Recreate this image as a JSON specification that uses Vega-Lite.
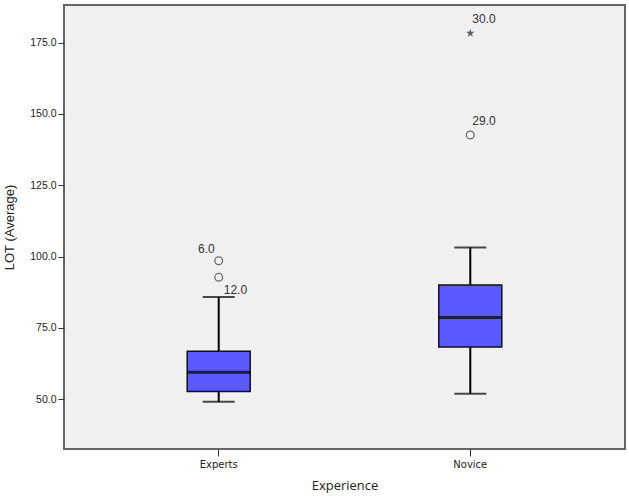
{
  "$schema": "https://vega.github.io/schema/vega-lite/v6.json",
  "width": 561,
  "height": 444,
  "autosize": "none",
  "padding": {"left": 64, "top": 5, "right": 4, "bottom": 54},
  "background": "white",
  "config": {
    "view": {"fill": "#f0f0f0", "stroke": "#666666", "strokeWidth": 2},
    "axis": {"domain": false, "grid": false, "tickColor": "#333333", "labelColor": "#222222", "titleColor": "#222222", "titleFontWeight": "normal"}
  },
  "datasets": {
    "boxes": [
      {"Experience": "Experts", "lo": 49.1, "q1": 52.7, "median": 59.4, "q3": 66.8, "hi": 85.8},
      {"Experience": "Novice", "lo": 51.9, "q1": 68.3, "median": 78.6, "q3": 90.0, "hi": 103.2}
    ],
    "outliers": [
      {"Experience": "Experts", "value": 98.5, "label": "6.0", "kind": "circle"},
      {"Experience": "Experts", "value": 92.7, "label": "12.0", "kind": "circle"},
      {"Experience": "Novice", "value": 142.6, "label": "29.0", "kind": "circle"},
      {"Experience": "Novice", "value": 178.3, "label": "30.0", "kind": "star"}
    ]
  },
  "encoding": {
    "x": {
      "field": "Experience", "type": "nominal",
      "scale": {"domain": ["Experts", "Novice"], "paddingInner": 0, "paddingOuter": 0.115},
      "axis": {"labelAngle": 0, "labelFont": "DejaVu Sans", "labelFontSize": 10, "tickSize": 7, "labelPadding": 3, "title": "Experience", "titleFont": "Open Sans", "titleFontSize": 13, "titlePadding": 10}
    }
  },
  "layer": [
    {
      "data": {"name": "boxes"},
      "mark": {"type": "rule", "color": "black", "strokeWidth": 2},
      "encoding": {
        "y": {"field": "lo", "type": "quantitative",
          "scale": {"domain": [32.5, 188.2], "nice": false, "zero": false},
          "axis": {"values": [50, 75, 100, 125, 150, 175], "format": ".1f", "labelFont": "Liberation Sans", "labelFontSize": 10.5, "tickSize": 6, "labelPadding": 2, "title": "LOT (Average)", "titleFont": "Liberation Sans", "titleFontSize": 13, "titlePadding": 13}},
        "y2": {"field": "hi"}
      }
    },
    {
      "data": {"name": "boxes"},
      "mark": {"type": "tick", "color": "black", "size": 32, "thickness": 2},
      "encoding": {"y": {"field": "lo", "type": "quantitative"}}
    },
    {
      "data": {"name": "boxes"},
      "mark": {"type": "tick", "color": "black", "size": 32, "thickness": 2},
      "encoding": {"y": {"field": "hi", "type": "quantitative"}}
    },
    {
      "data": {"name": "boxes"},
      "mark": {"type": "bar", "width": 63, "fill": "#5a5aff", "stroke": "#111111", "strokeWidth": 1.5},
      "encoding": {"y": {"field": "q1", "type": "quantitative"}, "y2": {"field": "q3"}}
    },
    {
      "data": {"name": "boxes"},
      "mark": {"type": "tick", "color": "black", "size": 63, "thickness": 3},
      "encoding": {"y": {"field": "median", "type": "quantitative"}}
    },
    {
      "data": {"name": "outliers"},
      "transform": [{"filter": "datum.kind === 'circle'"}],
      "mark": {"type": "point", "shape": "circle", "filled": false, "stroke": "#333333", "strokeWidth": 1.3, "size": 60},
      "encoding": {"y": {"field": "value", "type": "quantitative"}}
    },
    {
      "data": {"name": "outliers"},
      "transform": [{"filter": "datum.kind === 'star'"}],
      "mark": {"type": "point", "shape": "M0,-1L0.22,-0.31L0.95,-0.31L0.36,0.12L0.59,0.81L0,0.38L-0.59,0.81L-0.36,0.12L-0.95,-0.31L-0.22,-0.31Z", "filled": true, "fill": "#222222", "strokeWidth": 0, "size": 80},
      "encoding": {"y": {"field": "value", "type": "quantitative"}}
    },
    {
      "data": {"name": "outliers"},
      "transform": [{"filter": "datum.label === '29.0' || datum.label === '30.0'"}],
      "mark": {"type": "text", "align": "left", "baseline": "middle", "dx": 2, "dy": -14, "font": "Liberation Sans", "fontSize": 12, "color": "#333333"},
      "encoding": {"y": {"field": "value", "type": "quantitative"}, "text": {"field": "label"}}
    },
    {
      "data": {"name": "outliers"},
      "transform": [{"filter": "datum.label === '6.0'"}],
      "mark": {"type": "text", "align": "right", "baseline": "middle", "dx": -4, "dy": -12, "font": "Liberation Sans", "fontSize": 12, "color": "#333333"},
      "encoding": {"y": {"field": "value", "type": "quantitative"}, "text": {"field": "label"}}
    },
    {
      "data": {"name": "outliers"},
      "transform": [{"filter": "datum.label === '12.0'"}],
      "mark": {"type": "text", "align": "left", "baseline": "middle", "dx": 5, "dy": 13, "font": "Liberation Sans", "fontSize": 12, "color": "#333333"},
      "encoding": {"y": {"field": "value", "type": "quantitative"}, "text": {"field": "label"}}
    }
  ]
}
